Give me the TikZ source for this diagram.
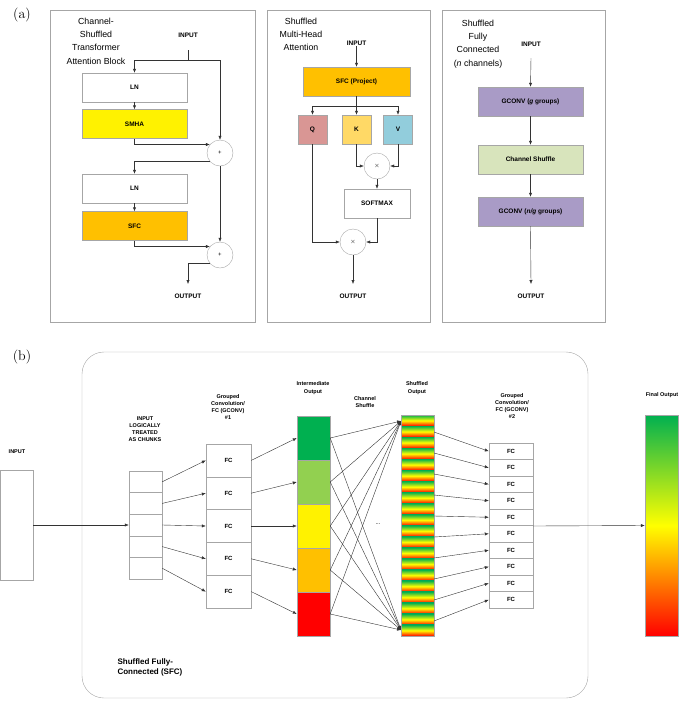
\documentclass[tikz,border=0pt]{standalone}
\usepackage{fontspec}
\setmainfont{Liberation Sans}
\newfontfamily\lmr{Latin Modern Roman}
\usetikzlibrary{arrows.meta}
\definecolor{sfcc}{HTML}{FFC000}
\definecolor{qc}{HTML}{D99694}
\definecolor{kc}{HTML}{FFD966}
\definecolor{vc}{HTML}{92CDDC}
\definecolor{gc}{HTML}{A99BC6}
\definecolor{csc}{HTML}{D8E4BC}
\definecolor{g1}{HTML}{00B050}
\definecolor{g2}{HTML}{92D050}
\definecolor{bd}{HTML}{A6A6A6}
\begin{document}
\begin{tikzpicture}[x=1pt,y=-1pt,
  arr/.style={-{Latex[length=4pt,width=3.2pt]},black!80},
  ln/.style={black!80},
  box/.style={draw=bd,minimum width=105pt,minimum height=29pt,inner sep=0pt,font=\fontsize{6.5}{8}\selectfont\bfseries},
  sq/.style={box,minimum width=29pt},
  circ/.style={draw=bd,circle,minimum size=26pt,inner sep=0pt,font=\fontsize{6}{7}\selectfont},
  lbl/.style={font=\fontsize{6.5}{8}\selectfont\bfseries,inner sep=1pt},
  sl/.style={font=\fontsize{5.5}{7.2}\selectfont\bfseries,align=center,inner sep=0pt},
  ttl/.style={font=\fontsize{8.8}{13.3}\selectfont,align=center,inner sep=0pt},
  grad/.style={top color=g1,bottom color=red,middle color=yellow},
  cell/.style={draw=bd,inner sep=0pt,font=\fontsize{6}{7}\selectfont\bfseries}]
\useasboundingbox (0,0) rectangle (685,702);
% ---------- (a)
\node[font=\lmr\fontsize{14}{16}\selectfont] (la) at (22,15) {(a)};
\draw[bd] (50,10) rectangle (255,322);
\draw[bd] (267,10) rectangle (430,322);
\draw[bd] (442,10) rectangle (605,322);
% panel 1
\node[ttl] (t1) at (96,41) {Channel-\\Shuffled\\Transformer\\Attention Block};
\node[lbl] (in1) at (188,35) {INPUT};
\coordinate (in1b) at (188,50);
\coordinate (s1) at (188,60);
\node[box] (ln1) at (134.5,87.5) {LN};
\node[box,fill=yellow] (smha) at (134.5,124) {SMHA};
\node[circ] (p1) at (220,153) {+};
\node[box] (ln2) at (134.5,188.5) {LN};
\node[box,fill=sfcc] (sfc) at (134.5,226) {SFC};
\node[circ] (p2) at (220,255) {+};
\coordinate (o1) at (188,284);
\node[lbl] (out1) at (188,296) {OUTPUT};
\draw[ln] (in1b) -- (s1);
\draw[arr] (s1) -| (ln1.north);
\draw[arr] (s1) -| (p1.north);
\draw[arr] (ln1) -- (smha);
\draw[arr] (smha.south) |- (p1.140);
\draw[arr] (p1.220) -| (ln2.north);
\draw[arr] (ln2) -- (sfc);
\draw[arr] (p1.south) -- (p2.north);
\draw[arr] (sfc.south) |- (p2.140);
\draw[arr] (p2.220) -| (o1);
% panel 2
\node[ttl] (t2) at (301,34.5) {Shuffled\\Multi-Head\\Attention};
\node[lbl] (in2) at (356.5,43) {INPUT};
\node[box,fill=sfcc,minimum width=107pt] (proj) at (356.5,81.5) {SFC (Project)};
\coordinate (br) at (356.5,106);
\node[sq,fill=qc] (q) at (312.5,129.5) {Q};
\node[sq,fill=kc] (k) at (356.5,129.5) {K};
\node[sq,fill=vc] (v) at (398,129.5) {V};
\node[circ] (m1) at (377,166) {$\times$};
\node[box,minimum width=66pt] (soft) at (377,203.5) {SOFTMAX};
\node[circ] (m2) at (353,242) {$\times$};
\coordinate (o2) at (353,284);
\node[lbl] (out2) at (353,296) {OUTPUT};
\draw[arr] (in2.south) -- (proj.north);
\draw[ln] (proj.south) -- (br);
\draw[arr] (br) -| (q.north);
\draw[arr] (br) -| (v.north);
\draw[arr] (br) -- (k.north);
\draw[arr] (k.south) |- (m1.west);
\draw[arr] (v.south) |- (m1.east);
\draw[arr] (m1.south) -- (soft.north);
\draw[arr] (soft.south) |- (m2.east);
\draw[arr] (q.south) |- (m2.west);
\draw[arr] (m2.south) -- (o2);
% panel 3
\node[ttl] (t3) at (478,44) {Shuffled\\Fully\\Connected\\(\textit{n} channels)};
\node[lbl] (in3) at (531,44) {INPUT};
\coordinate (in3b) at (531,58);
\node[box,fill=gc] (gc1) at (530.5,101.5) {GCONV (\textit{g} groups)};
\node[box,fill=csc] (cs) at (530.5,159.5) {Channel Shuffle};
\node[box,fill=gc] (gc2) at (530.5,211.5) {GCONV (\textit{n/g} groups)};
\coordinate (o3) at (531,284);
\node[lbl] (out3) at (531,296) {OUTPUT};
\draw[arr] (in3b) -- (gc1.north);
\draw[arr] (gc1) -- (cs);
\draw[arr] (cs) -- (gc2);
\draw[arr] (gc2.south) -- (o3);
% ---------- (b)
\node[font=\lmr\fontsize{14}{16}\selectfont] (lb) at (22,357) {(b)};
\draw[bd,rounded corners=22pt] (82,352) rectangle (588,698);
\node[font=\fontsize{8}{10}\selectfont\bfseries,align=left,anchor=west] (sfct) at (114,667) {Shuffled Fully-\\Connected (SFC)};
% input
\node[draw=bd,minimum width=33pt,minimum height=110pt,inner sep=0pt] (inb) at (16.5,525) {};
\node[sl] (inbl) at (17,452) {INPUT};
% chunks
\node[sl] (chl) at (145,429) {INPUT\\LOGICALLY\\TREATED\\AS CHUNKS};
\foreach \i in {1,...,5}{
  \node[cell,minimum width=33pt,minimum height=21.6pt] (c\i) at (145.5,{471+21.6*(\i-0.5)}) {};
  \node[cell,minimum width=45pt,minimum height=32.8pt] (f\i) at (228.5,{444+32.8*(\i-0.5)}) {FC};
  \draw[arr] (c\i.east) -- (f\i.west);
}
\draw[arr] (inb.east) -- (c3.west);
\node[sl] (f1l) at (228,407) {Grouped\\Convolution/\\FC (GCONV)\\\#1};
% intermediate
\node[sl] (iml) at (313,388) {Intermediate\\Output};
\foreach \i/\c in {1/g1,2/g2,3/yellow,4/sfcc,5/red}{
  \node[draw=bd,fill=\c,minimum width=33pt,minimum height=44pt,inner sep=0pt] (m\i) at (313.5,{416+44*(\i-0.5)}) {};
  \draw[arr] (f\i.east) -- (m\i.west);
}
% shuffled
\node[sl] (shl) at (417,388) {Shuffled\\Output};
\node[sl] (csl) at (365,402) {Channel\\Shuffle};
\foreach \j in {0,...,19}{
  \shade[grad] (401,{415+11.05*\j}) rectangle (434,{415+11.05*(\j+1)});
}
\node[draw=bd,minimum width=33pt,minimum height=221pt,inner sep=0pt] (sh) at (417.5,525.5) {};
\coordinate (st) at (401,421);
\coordinate (sb) at (401,630);
\node[font=\fontsize{6}{7}\selectfont] (dots) at (378,524) {...};
\foreach \i in {1,...,5}{
  \draw[arr] (m\i.east) -- (st);
  \draw[arr] (m\i.east) -- (sb);
}
% FC column 2
\node[sl] (f2l) at (512,406) {Grouped\\Convolution/\\FC (GCONV)\\\#2};
\foreach \i in {1,...,10}{
  \node[cell,minimum width=44pt,minimum height=16.5pt] (h\i) at (511,{443+16.5*(\i-0.5)}) {FC};
  \coordinate (s\i) at (434,{432+21*(\i-1)});
  \draw[arr] (s\i) -- (h\i.west);
}
% final output
\node[sl] (fol) at (662,395) {Final Output};
\shade[grad] (645,415) rectangle (678,636);
\node[draw=bd,minimum width=33pt,minimum height=221pt,inner sep=0pt] (fo) at (661.5,525.5) {};
\coordinate (h6m) at (533,526);
\draw[arr] (h6m) -- (fo.west);
\end{tikzpicture}
\end{document}
